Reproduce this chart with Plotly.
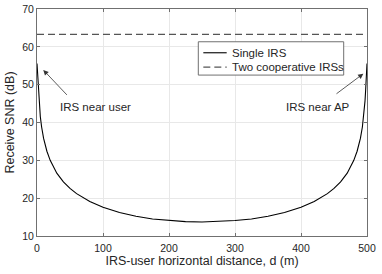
import plotly.graph_objects as go

# IRS-user horizontal distance d (m)
d_vals = [0, 1, 2, 3, 4, 5, 7, 10, 15, 20, 30, 40, 50, 60, 80, 100, 125, 150, 175, 200, 225,
          250, 275, 300, 325, 350, 375, 400, 420, 440, 450, 460, 470, 480, 485, 490, 493,
          495, 496, 497, 498, 499, 500]
# Receive SNR (dB), single IRS
snr_single = [55.6, 52.6, 48.7, 45.7, 43.4, 41.6, 38.8, 35.8, 32.4, 30.0, 26.6, 24.3, 22.6,
              21.2, 19.1, 17.6, 16.2, 15.2, 14.5, 14.1, 13.8, 13.7, 13.8, 14.1, 14.5, 15.2,
              16.2, 17.6, 19.1, 21.2, 22.6, 24.3, 26.6, 30.0, 32.4, 35.8, 38.8, 41.6, 43.4,
              45.7, 48.7, 52.6, 55.6]
# Two cooperative IRSs (dB)
d_coop = [0, 500]
snr_coop = [63.3, 63.3]

series_names = ["Single IRS", "Two cooperative IRSs"]
x_ticks = [0, 100, 200, 300, 400, 500]
y_ticks = [10, 20, 30, 40, 50, 60, 70]

FONT = "Liberation Sans, Arial, Helvetica, sans-serif"
TXT = "#262626"
SOLID = dict(color="black", width=1.1)
DASHED = dict(color="#555555", width=1.2, dash="7px,4px")

fig = go.Figure()
fig.add_trace(go.Scatter(x=d_vals, y=snr_single, mode="lines", name=series_names[0],
                         line=SOLID, showlegend=False))
fig.add_trace(go.Scatter(x=d_coop, y=snr_coop, mode="lines", name=series_names[1],
                         line=DASHED, showlegend=False))

axis_common = dict(showgrid=True, gridcolor="#e8e8e8", gridwidth=1, zeroline=False,
                   showline=True, linecolor="#707070", linewidth=1, mirror="allticks",
                   ticks="inside", ticklen=3, tickcolor="#707070", automargin=False,
                   tickfont=dict(family=FONT, size=10.5, color=TXT))

fig.update_xaxes(range=[0, 500], tickvals=x_ticks, ticklabelstandoff=2,
                 title=dict(text="IRS-user horizontal distance, d (m)", standoff=3,
                            font=dict(family=FONT, size=12.5, color=TXT)),
                 **axis_common)
fig.update_yaxes(range=[10, 70], tickvals=y_ticks,
                 title=dict(text="Receive SNR (dB)", standoff=4,
                            font=dict(family=FONT, size=12.5, color=TXT)),
                 **axis_common)

# arrows with labels
fig.add_annotation(x=9.5, y=53.9, ax=47.4, ay=46.9, xref="x", yref="y", axref="x", ayref="y",
                   text="", showarrow=True, arrowhead=2, arrowsize=1.3, arrowwidth=0.8,
                   arrowcolor="#333333")
fig.add_annotation(x=88, y=44.1, xref="x", yref="y", text="IRS near user", showarrow=False,
                   font=dict(family=FONT, size=11.5, color=TXT))
fig.add_annotation(x=494.4, y=52.9, ax=451.5, ay=47.3, xref="x", yref="y", axref="x", ayref="y",
                   text="", showarrow=True, arrowhead=2, arrowsize=1.3, arrowwidth=0.8,
                   arrowcolor="#333333")
fig.add_annotation(x=426, y=44.1, xref="x", yref="y", text="IRS near AP", showarrow=False,
                   font=dict(family=FONT, size=11.5, color=TXT))

# legend box (drawn like the MATLAB legend)
fig.add_shape(type="rect", xref="paper", yref="paper", x0=0.4888, x1=0.9294, y0=0.7089, y1=0.8557,
              fillcolor="white", line=dict(color="#707070", width=1), layer="above")
leg_rows = [0.8072, 0.7442]
for name, style, yr in zip(series_names, [SOLID, DASHED], leg_rows):
    fig.add_shape(type="line", xref="paper", yref="paper", x0=0.504, x1=0.5748, y0=yr, y1=yr,
                  line=style, layer="above")
    fig.add_annotation(x=0.5848, y=yr, xref="paper", yref="paper", text=name, showarrow=False,
                       xanchor="left", yanchor="middle",
                       font=dict(family=FONT, size=11.5, color=TXT))

fig.update_layout(
    width=382, height=274,
    margin=dict(l=37, r=15, t=9, b=38),
    paper_bgcolor="white", plot_bgcolor="white",
    showlegend=False,
)

fig.write_html("out.html", config={"displayModeBar": False},
               post_script="document.body.style.margin='0';")
